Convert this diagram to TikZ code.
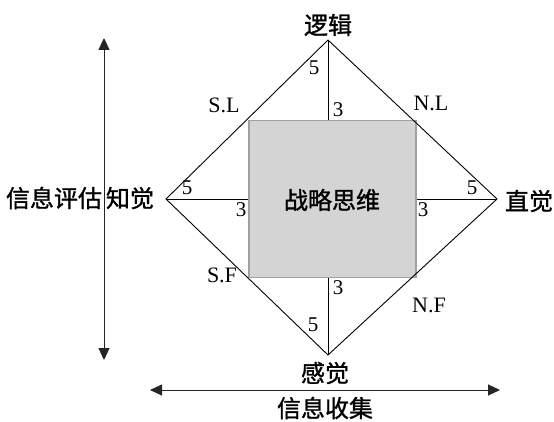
\documentclass[tikz,border=0pt]{standalone}
\usepackage{fontspec}
\setmainfont{Liberation Serif}
\newfontfamily\cjk{Noto Sans CJK SC}[FakeBold=1.2]
\usetikzlibrary{arrows.meta}
\definecolor{boxfill}{RGB}{212,212,212}
\definecolor{boxline}{RGB}{160,160,160}
\begin{document}
\begin{tikzpicture}[x=1pt,y=-1pt,
  cjklabel/.style={font=\cjk\fontsize{24}{24}\selectfont, inner sep=0pt},
  latlabel/.style={font=\fontsize{22}{22}\selectfont, inner sep=0pt},
  numlabel/.style={font=\fontsize{21}{21}\selectfont, inner sep=0pt},
  edge/.style={draw=black, line width=0.9pt},
  bigarrow/.style={draw=black!85, line width=1pt, {Triangle[length=12pt,width=11pt]}-{Triangle[length=12pt,width=11pt]}}
]
\useasboundingbox (0,0) rectangle (554,422);
% square
\node[draw=boxline, fill=boxfill, line width=1.2pt, minimum width=167pt, minimum height=157pt, inner sep=0pt] (sq) at (332.5,199) {};
\node[cjklabel] (center) at (332,200) {战略思维};
% diamond vertices
\coordinate (T) at (328,40);
\coordinate (B) at (328,355);
\coordinate (L) at (166,199);
\coordinate (R) at (497,199);
\draw[edge] (T) -- (R) -- (B) -- (L) -- cycle;
\draw[edge] (T) -- (T |- sq.north);
\draw[edge] (B) -- (B |- sq.south);
\draw[edge] (L) -- (L -| sq.west);
\draw[edge] (R) -- (R -| sq.east);
% labels
\node[cjklabel] (top) at (328,25) {逻辑};
\node[cjklabel] (bottom) at (325,373) {感觉};
\node[cjklabel] (right) at (529,201) {直觉};
\node[cjklabel] (left) at (80,198) {信息评估\hspace{4pt}知觉};
\node[cjklabel] (gather) at (325,408) {信息收集};
\node[latlabel] (sl) at (224,105) {S.L};
\node[latlabel] (nl) at (431,103) {N.L};
\node[latlabel] (sf) at (222,275) {S.F};
\node[latlabel] (nf) at (429,305) {N.F};
\node[numlabel] (n5t) at (314,68) {5};
\node[numlabel] (n3t) at (338,110) {3};
\node[numlabel] (n5l) at (187,188) {5};
\node[numlabel] (n3l) at (241,210) {3};
\node[numlabel] (n5r) at (472,188) {5};
\node[numlabel] (n3r) at (423,210) {3};
\node[numlabel] (n3b) at (338,288) {3};
\node[numlabel] (n5b) at (313,325) {5};
% arrows
\coordinate (vt) at (104,38);
\coordinate (vb) at (104,360);
\coordinate (hl) at (150,390);
\coordinate (hr) at (500,390);
\draw[bigarrow] (vt) -- (vb);
\draw[bigarrow] (hl) -- (hr);
\end{tikzpicture}
\end{document}
